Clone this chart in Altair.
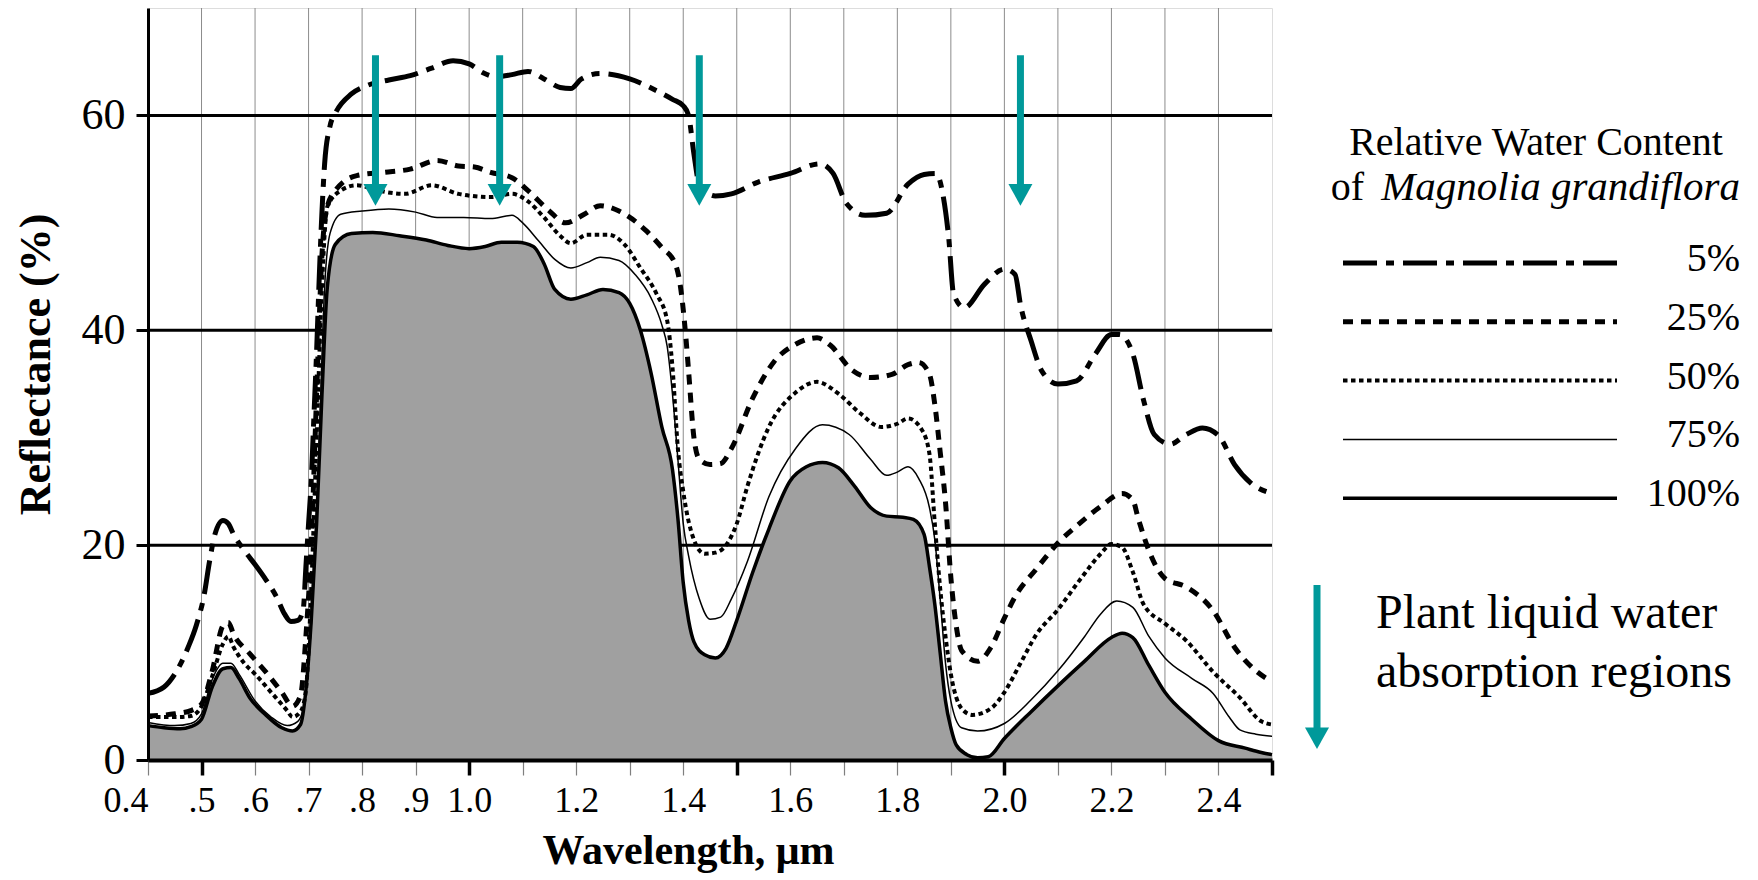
import json
import altair as alt
import pandas as pd

# ---------------- data ----------------
SERIES = ["5%", "25%", "50%", "75%", "100%"]

WL_5 = [0.40,0.43,0.45,0.475,0.49,0.505,0.515,0.525,0.54,0.55,0.56,0.58,0.60,0.62,0.64,0.655,0.667,0.68,0.69,0.695,
        0.70,0.705,0.71,0.715,0.72,0.725,0.73,0.74,0.75,0.78,0.81,0.85,0.89,0.93,0.97,1.00,1.025,1.05,1.08,1.11,
        1.14,1.17,1.19,1.21,1.245,1.30,1.35,1.38,1.40,1.41,1.42,1.43,1.46,1.49,1.54,1.60,1.655,1.68,1.705,1.74,
        1.78,1.82,1.85,1.872,1.886,1.896,1.905,1.925,1.963,2.00,2.02,2.03,2.05,2.07,2.10,2.135,2.17,2.20,2.215,2.24,
        2.26,2.28,2.31,2.34,2.37,2.40,2.43,2.46,2.50]
RF_5 = [6.2,6.8,8.0,10.5,12.5,15.4,18.5,21,22.3,22.0,21.0,19.5,18.2,16.8,15.2,13.6,12.9,13.0,14,18,
        22,26,32,38,45,51,55.5,59,60.2,62.0,62.8,63.3,63.7,64.4,65.1,64.8,64.0,63.6,63.8,64.1,
        63.4,62.6,62.5,63.4,63.9,63.4,62.3,61.5,60.9,60.0,56.4,53.6,52.5,52.7,53.8,54.6,55.5,54.6,51.8,50.7,
        50.9,53.6,54.5,54.6,52.4,48.6,43.4,42.1,44.3,45.7,45.2,42.4,39,36.2,35.0,35.3,37.8,39.6,39.6,37.8,
        33.5,30.3,29.4,30.3,30.9,30.2,27.5,25.8,24.8]

WL_25 = [0.40,0.45,0.48,0.50,0.52,0.54,0.55,0.56,0.59,0.62,0.65,0.67,0.685,0.695,0.705,0.715,0.725,0.735,0.75,0.79,
         0.84,0.89,0.94,0.98,1.01,1.04,1.08,1.11,1.15,1.18,1.215,1.245,1.28,1.33,1.36,1.385,1.395,1.405,1.41,1.42,
         1.43,1.45,1.47,1.49,1.53,1.57,1.61,1.65,1.675,1.715,1.75,1.79,1.82,1.84,1.86,1.87,1.88,1.89,1.90,1.91,
         1.92,1.95,1.975,2.00,2.02,2.06,2.10,2.14,2.18,2.22,2.24,2.25,2.27,2.30,2.34,2.39,2.43,2.47,2.50]
RF_25 = [4.1,4.3,4.6,5.2,8.3,12.5,12.8,11.7,9.9,8.2,6.3,5.0,6,11.5,20,34,47,51.5,53,54.4,
         54.7,55.0,55.8,55.3,55.2,54.7,54.2,53.0,51.1,50.0,50.8,51.6,51.1,49.3,47.7,46.2,44,39.3,36.2,30,
         28,27.5,27.6,29,33.7,37.1,38.7,39.3,38.6,36.3,35.6,35.9,36.8,37.0,35.9,33.1,28.7,24,17,12.5,
         10.2,9.2,10.5,13.2,15.2,17.8,20.2,22,23.6,24.8,24.2,22.5,19.5,16.9,16.1,13.9,10.5,8.3,7.3]

WL_50 = [0.40,0.45,0.48,0.50,0.52,0.54,0.55,0.56,0.58,0.60,0.63,0.66,0.67,0.685,0.695,0.705,0.715,0.725,0.735,0.76,
         0.79,0.83,0.88,0.93,0.98,1.04,1.08,1.11,1.14,1.17,1.19,1.22,1.26,1.29,1.32,1.35,1.37,1.38,1.39,1.40,
         1.42,1.44,1.46,1.48,1.50,1.52,1.56,1.61,1.65,1.69,1.73,1.77,1.80,1.82,1.845,1.86,1.87,1.88,1.89,1.90,
         1.92,1.94,1.975,2.00,2.03,2.06,2.10,2.14,2.18,2.20,2.22,2.24,2.26,2.30,2.34,2.39,2.44,2.48,2.50]
RF_50 = [4.0,4.0,4.1,5.0,7.8,10.8,11.5,10.5,9.0,8.0,6.3,4.6,4.0,4.5,6.5,16,30,44,51.5,53,
         53.5,53.0,52.7,53.5,52.7,52.4,52.7,52.0,50.5,48.8,48.1,48.9,48.9,48,45.8,43.4,40.9,36.5,29,25,
         20.5,19.2,19.3,20.0,22,25.5,31,34.2,35.2,34.1,32.3,31.0,31.3,31.8,30.8,28.5,22,16,11.5,8,
         4.8,4.2,4.8,6.3,9,11.7,14,16.7,19.2,20.1,19.8,17.5,14.5,12.7,11.1,8.2,5.8,3.6,3.3]

WL_75 = [0.40,0.45,0.48,0.50,0.52,0.54,0.555,0.57,0.60,0.63,0.66,0.68,0.69,0.70,0.71,0.72,0.73,0.74,0.76,0.80,
         0.85,0.90,0.94,0.99,1.04,1.08,1.10,1.13,1.16,1.19,1.22,1.245,1.28,1.31,1.34,1.36,1.37,1.38,1.39,1.40,
         1.41,1.43,1.45,1.47,1.49,1.52,1.56,1.61,1.66,1.71,1.75,1.78,1.80,1.82,1.84,1.86,1.87,1.88,1.89,1.90,
         1.92,1.95,2.00,2.05,2.10,2.15,2.18,2.21,2.24,2.27,2.30,2.35,2.39,2.42,2.44,2.47,2.50]
RF_75 = [3.5,3.2,3.4,4.3,7.5,9.0,9.0,8.0,5.5,4.0,3.2,3.6,4.8,9,17,30,44,49,50.8,51.1,
         51.3,51.0,50.5,50.5,50.4,50.7,50.0,48.3,46.6,45.8,46.3,46.8,46.5,45.2,43,40.5,38.5,34,28,22,
         19,15,13.1,13.3,15,18.5,24.5,29,31.2,30.3,28,26.5,26.8,27.3,26.2,23.5,20.5,15,9,5.5,
         3.0,2.7,3.4,5.6,8.3,11.5,13.6,14.8,14.2,11.5,9.5,7.6,6.2,4.0,2.8,2.4,2.2]

WL_100 = [0.40,0.43,0.46,0.48,0.50,0.52,0.54,0.555,0.57,0.59,0.62,0.65,0.67,0.685,0.695,0.705,0.715,0.725,0.735,0.75,
          0.78,0.82,0.87,0.92,0.96,1.00,1.03,1.06,1.09,1.12,1.14,1.16,1.19,1.22,1.25,1.28,1.30,1.32,1.34,1.36,
          1.38,1.39,1.40,1.41,1.42,1.44,1.46,1.48,1.50,1.53,1.56,1.60,1.63,1.66,1.69,1.72,1.75,1.78,1.81,1.83,
          1.85,1.86,1.87,1.88,1.89,1.90,1.91,1.93,1.95,1.97,2.00,2.05,2.10,2.15,2.20,2.22,2.24,2.27,2.30,2.35,
          2.40,2.45,2.48,2.50]
RF_100 = [3.2,3.0,2.9,3.1,3.8,6.8,8.5,8.6,7.6,5.8,4.2,3.0,2.7,3.3,6.5,13,22,34,44,48,
          49,49.1,48.8,48.4,47.9,47.6,47.8,48.2,48.2,47.8,46.2,43.8,42.9,43.3,43.8,43.5,42.5,40,36,31,
          27,22.5,16.5,13,11,9.8,9.5,10.4,13,17.5,21.5,26,27.3,27.7,27.2,25.5,23.5,22.7,22.6,22.4,
          21,18,14.5,10,5.5,3,1.4,0.5,0.2,0.3,2.0,4.5,6.9,9.2,11.4,11.8,11.4,8.8,6.3,3.8,
          1.8,1.1,0.7,0.5]

# water absorption arrows (wavelength, top, tip in % reflectance)
ARROW_WL = [0.825, 1.057, 1.43, 2.03]
ARROW_TOP = 65.6
ARROW_TIP = 51.6

# axes
X_MIN, X_MAX = 0.4, 2.5
Y_MAX = 70
X_TICK_TENTHS = list(range(4, 26))
X_TICK_LABELS = ["0.4", ".5", ".6", ".7", ".8", ".9", "1.0", "", "1.2", "", "1.4", "", "1.6", "",
                 "1.8", "", "2.0", "", "2.2", "", "2.4", ""]
Y_TICKS = [0, 20, 40, 60]

LEGEND_TITLE_1 = "Relative Water Content"
LEGEND_TITLE_2A = "of"
LEGEND_TITLE_2B = "Magnolia grandiflora"
NOTE_LINES = ["Plant liquid water", "absorption regions"]

# ---------------- styling ----------------
FONT = "Liberation Serif"
TEAL = "#00999A"
GRAY_FILL = "#A0A0A0"
W, H = 1124, 752

STYLES = {
    "5%": dict(strokeDash=[34, 9, 8, 9], strokeWidth=5),
    "25%": dict(strokeDash=[10, 8], strokeWidth=5),
    "50%": dict(strokeDash=[4.5, 3.5], strokeWidth=4),
    "75%": dict(strokeWidth=1.5),
    "100%": dict(strokeWidth=3.5),
}

curves = {
    "5%": (WL_5, RF_5),
    "25%": (WL_25, RF_25),
    "50%": (WL_50, RF_50),
    "75%": (WL_75, RF_75),
    "100%": (WL_100, RF_100),
}
frames = {k: pd.DataFrame({"wl": v[0], "refl": v[1], "series": k}) for k, v in curves.items()}

xs = alt.Scale(domain=[X_MIN, X_MAX], nice=False, zero=False)
ys = alt.Scale(domain=[0, Y_MAX], nice=False, zero=True)

major_test = "round(datum.value * 10) % 5 == 0"
x_axis = alt.Axis(
    values=[t / 10 for t in X_TICK_TENTHS],
    labelExpr=f"{json.dumps(X_TICK_LABELS)}[indexof({json.dumps(X_TICK_TENTHS)}, round(datum.value * 10))]",
    grid=False,
    domainColor="black", domainWidth=4,
    tickSize=15,
    tickColor={"condition": {"test": major_test, "value": "black"}, "value": "#7f7f7f"},
    tickWidth={"condition": {"test": major_test, "value": 3.5}, "value": 1.2},
    labelAlign={"condition": {"test": "datum.value < 0.45", "value": "right"}, "value": "center"},
    labelFlush=False, labelOverlap=False,
    labelFont=FONT, labelFontSize=36, labelColor="black", labelPadding=8,
    title="Wavelength, μm", titleFont=FONT, titleFontSize=42, titleFontWeight="bold",
    titleColor="black", titleBaseline="alphabetic", titleAlign="center", titleX=540, titleY=103,
    zindex=1,
)
y_axis = alt.Axis(
    values=Y_TICKS, grid=False,
    domainColor="black", domainWidth=3,
    tickSize=12, tickWidth=3, tickColor="black",
    labelFont=FONT, labelFontSize=44, labelColor="black", labelPadding=11,
    title="Reflectance (%)", titleFont=FONT, titleFontSize=44, titleFontWeight="bold",
    titleColor="black", titleAngle=270, titleX=-112, titleY=356,
    titleAlign="center", titleBaseline="middle",
    zindex=1,
)

X = alt.X("wl:Q", scale=xs, axis=x_axis)
Y = alt.Y("refl:Q", scale=ys, axis=y_axis)

layers = []

# gridlines (under the filled area)
vgrid = pd.DataFrame({"wl": [t / 10 for t in X_TICK_TENTHS[1:-1]]})
layers.append(alt.Chart(vgrid).mark_rule(color="#8c8c8c", strokeWidth=1).encode(x=X))
hgrid = pd.DataFrame({"refl": Y_TICKS[1:]})
layers.append(alt.Chart(hgrid).mark_rule(color="black", strokeWidth=3).encode(y=Y))

# filled area for 100 %
layers.append(alt.Chart(frames["100%"]).mark_area(color=GRAY_FILL, interpolate="monotone", opacity=1)
              .encode(x=X, y=Y))

# curves
for name in ["75%", "50%", "25%", "5%", "100%"]:
    layers.append(alt.Chart(frames[name]).mark_line(color="black", interpolate="monotone",
                                                     strokeCap="butt", **STYLES[name])
                  .encode(x=X, y=Y))

# absorption arrows
arrows = pd.DataFrame({"wl": ARROW_WL, "top": ARROW_TOP, "tip": ARROW_TIP})
arrows["shaft_end"] = arrows["tip"] + 1.0
HEAD = "M -1 -1.8 L 1 -1.8 L 0 0 Z"
layers.append(alt.Chart(arrows).mark_rule(color=TEAL, strokeWidth=7)
              .encode(x=X, y=alt.Y("top:Q", scale=ys, axis=y_axis), y2="shaft_end:Q"))
layers.append(alt.Chart(arrows).mark_point(shape=HEAD, size=576, filled=True, color=TEAL, opacity=1, strokeWidth=0)
              .encode(x=X, y=alt.Y("tip:Q", scale=ys, axis=y_axis)))

# ---------------- legend (pixel layout to the right of the plot) ----------------
one = lambda **kw: pd.DataFrame({k: [v] for k, v in kw.items()})
layers.append(alt.Chart(one(t=LEGEND_TITLE_1)).mark_text(font=FONT, fontSize=40, align="center", baseline="middle",
                                                         color="black")
              .encode(x=alt.value(1388), y=alt.value(135), text="t:N"))
layers.append(alt.Chart(one(t=LEGEND_TITLE_2A)).mark_text(font=FONT, fontSize=40, align="right", baseline="middle",
                                                          color="black")
              .encode(x=alt.value(1216), y=alt.value(180), text="t:N"))
layers.append(alt.Chart(one(t=LEGEND_TITLE_2B)).mark_text(font=FONT, fontSize=41, fontStyle="italic", align="right",
                                                          baseline="middle", color="black")
              .encode(x=alt.value(1592), y=alt.value(180), text="t:N"))

for i, name in enumerate(SERIES):
    yy = 255 + 58.8 * i
    layers.append(alt.Chart(one(s=name)).mark_rule(color="black", strokeCap="butt", **STYLES[name])
                  .encode(x=alt.value(1195), x2=alt.value(1469), y=alt.value(yy)))
    layers.append(alt.Chart(one(s=name)).mark_text(font=FONT, fontSize=40, align="right", baseline="middle",
                                                   color="black")
                  .encode(x=alt.value(1592), y=alt.value(yy - 4), text="s:N"))

# note with arrow
layers.append(alt.Chart(one(a=0)).mark_rule(color=TEAL, strokeWidth=7)
              .encode(x=alt.value(1169), y=alt.value(577), y2=alt.value(725)))
layers.append(alt.Chart(one(a=0)).mark_point(shape=HEAD, size=576, filled=True, color=TEAL, opacity=1, strokeWidth=0)
              .encode(x=alt.value(1169), y=alt.value(741)))
for j, line in enumerate(NOTE_LINES):
    layers.append(alt.Chart(one(t=line)).mark_text(font=FONT, fontSize=48, align="left", baseline="middle",
                                                   color="black")
                  .encode(x=alt.value(1228), y=alt.value(606 + 59 * j), text="t:N"))

chart = (
    alt.layer(*layers)
    .properties(width=W, height=H, autosize=alt.AutoSizeParams(type="none"),
                padding={"left": 140, "top": 0, "right": 478, "bottom": 120})
    .configure_view(stroke="black", strokeWidth=3)
    .configure(background="white")
)

chart.save("out.html", embed_options={"renderer": "svg", "actions": False})
